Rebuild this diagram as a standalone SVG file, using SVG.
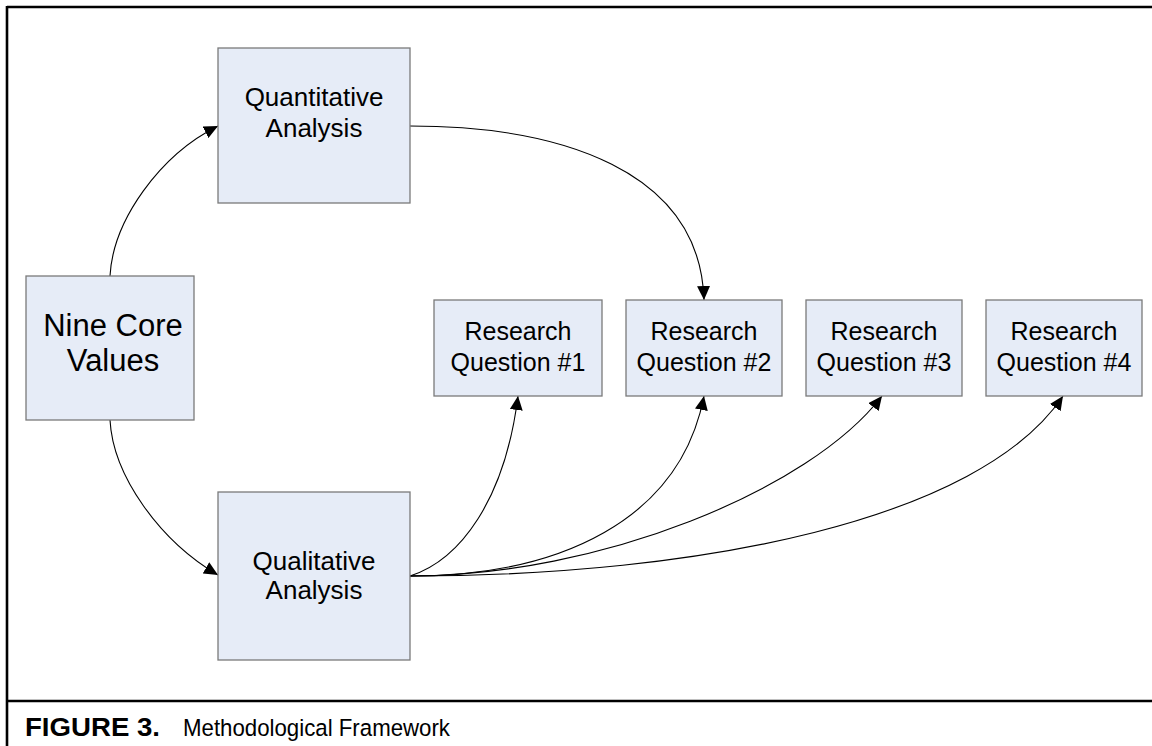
<svg xmlns="http://www.w3.org/2000/svg" width="1152" height="746" viewBox="0 0 1152 746">
<style>
.box{fill:#E6ECF7;stroke:#7a7a7a;stroke-width:1.3}
.lbl{font-family:"Liberation Sans",Arial,sans-serif;fill:#000;text-anchor:middle}
.conn{fill:none;stroke:#000;stroke-width:1.1}
.frame{stroke:#000;stroke-width:2.6;fill:none}
</style>
<defs>
<marker id="arr" markerUnits="userSpaceOnUse" markerWidth="15" markerHeight="13" refX="14" refY="6.5" orient="auto">
<path d="M0,0 L14,6.5 L0,13 Z" fill="#000"/>
</marker>
</defs>
<rect width="1152" height="746" fill="#fff"/>
<g id="frame">
<line class="frame" x1="7" y1="7" x2="1152" y2="7"/>
<line class="frame" x1="7" y1="6" x2="7" y2="746"/>
<line class="frame" x1="7" y1="701" x2="1152" y2="701"/>
</g>
<g id="connectors">
<path class="conn" d="M110,276 C113,220 160,155 218,126" marker-end="url(#arr)"/>
<path class="conn" d="M110,420 C113,476 160,541 218,575" marker-end="url(#arr)"/>
<path class="conn" d="M410,126 C560,126 700,170 704,300" marker-end="url(#arr)"/>
<path class="conn" d="M410,576 C460,560 505,500 518,396" marker-end="url(#arr)"/>
<path class="conn" d="M410,576 C560,576 680,520 704,396" marker-end="url(#arr)"/>
<path class="conn" d="M410,576 C600,576 810,490 882,396" marker-end="url(#arr)"/>
<path class="conn" d="M410,576 C700,576 980,520 1063,396" marker-end="url(#arr)"/>
</g>
<g id="quantitative">
<rect class="box" x="218" y="48" width="192" height="155"/>
<text class="lbl" font-size="26" x="314" y="106">Quantitative</text>
<text class="lbl" font-size="26" x="314" y="137">Analysis</text>
</g>
<g id="nine-core">
<rect class="box" x="26" y="276" width="168" height="144"/>
<text class="lbl" font-size="31" x="113" y="336">Nine Core</text>
<text class="lbl" font-size="31" x="113" y="371">Values</text>
</g>
<g id="qualitative">
<rect class="box" x="218" y="492" width="192" height="168"/>
<text class="lbl" font-size="26" x="314" y="570">Qualitative</text>
<text class="lbl" font-size="26" x="314" y="599">Analysis</text>
</g>
<g id="rq1">
<rect class="box" x="434" y="300" width="168" height="96"/>
<text class="lbl" font-size="25" x="518" y="340">Research</text>
<text class="lbl" font-size="25" x="518" y="371">Question #1</text>
</g>
<g id="rq2">
<rect class="box" x="626" y="300" width="156" height="96"/>
<text class="lbl" font-size="25" x="704" y="340">Research</text>
<text class="lbl" font-size="25" x="704" y="371">Question #2</text>
</g>
<g id="rq3">
<rect class="box" x="806" y="300" width="156" height="96"/>
<text class="lbl" font-size="25" x="884" y="340">Research</text>
<text class="lbl" font-size="25" x="884" y="371">Question #3</text>
</g>
<g id="rq4">
<rect class="box" x="986" y="300" width="156" height="96"/>
<text class="lbl" font-size="25" x="1064" y="340">Research</text>
<text class="lbl" font-size="25" x="1064" y="371">Question #4</text>
</g>
<g id="caption">
<text font-family="'Liberation Sans',Arial,sans-serif" font-size="24.5" x="25" y="736"><tspan font-weight="bold" font-size="25" textLength="135" lengthAdjust="spacingAndGlyphs">FIGURE 3.</tspan><tspan x="183" textLength="267" lengthAdjust="spacingAndGlyphs">Methodological Framework</tspan></text>
</g>
</svg>
